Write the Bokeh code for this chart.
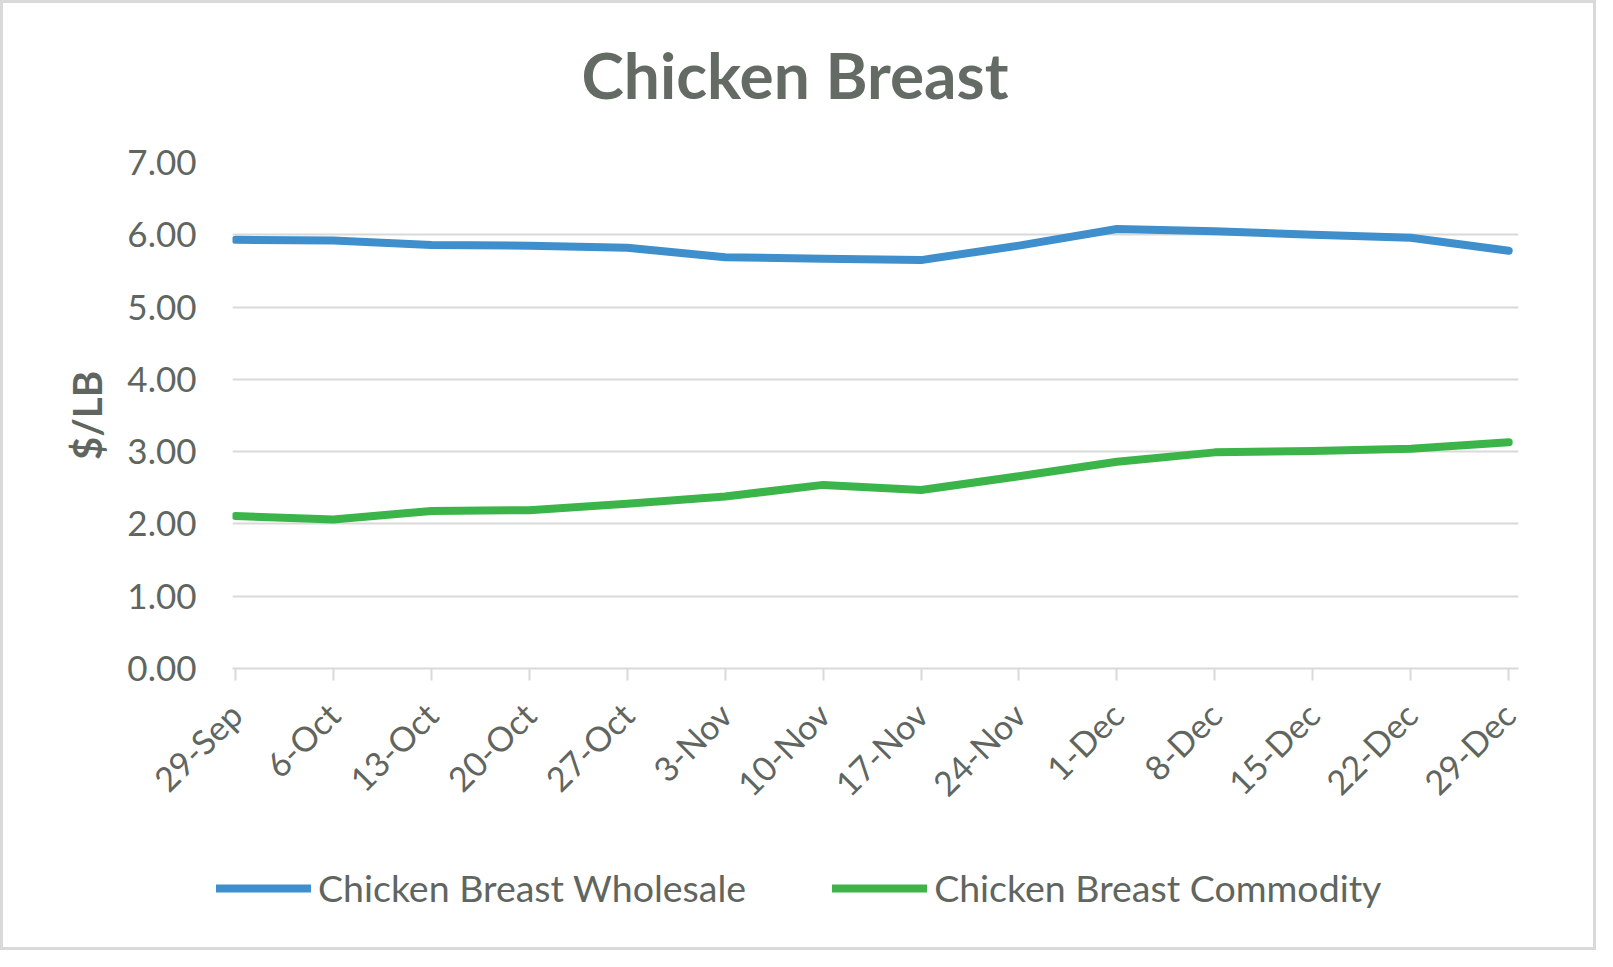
import math
from bokeh.plotting import figure
from bokeh.layouts import column
from bokeh.models import (Range1d, FixedTicker, NumeralTickFormatter, Legend, LegendItem, Label)
from bokeh.embed import file_html
from bokeh.resources import INLINE

# ---- data ----
weeks = ["29-Sep", "6-Oct", "13-Oct", "20-Oct", "27-Oct", "3-Nov", "10-Nov",
         "17-Nov", "24-Nov", "1-Dec", "8-Dec", "15-Dec", "22-Dec", "29-Dec"]
wholesale = [5.93, 5.92, 5.86, 5.85, 5.82, 5.69, 5.67, 5.65, 5.85, 6.08, 6.05, 6.00, 5.96, 5.78]
commodity = [2.11, 2.06, 2.18, 2.19, 2.28, 2.38, 2.54, 2.47, 2.66, 2.86, 2.99, 3.01, 3.04, 3.13]
series_names = ["Chicken Breast Wholesale", "Chicken Breast Commodity"]
title_text = "Chicken Breast"
y_title = "$/LB"
y_ticks = [0, 1, 2, 3, 4, 5, 6, 7]

# ---- style ----
FONT = "Lato"
TXT = "#60665f"
GRID = "#d9d9d9"
BLUE = "#3e8fcb"
GREEN = "#3bb54a"
LW = 8

W = 1590
HT, HM, HL = 120, 730, 94          # title strip, main chart, legend strip
FL, FR = 229, 1515                  # frame left/right
FT, FB = 159 - HT, 665 - HT         # frame top/bottom inside the main figure
X0, X1 = -0.03, 13.1
Y0, Y1 = 0, 7

def strip(height):
    f = figure(width=W, height=height, x_range=Range1d(0, W), y_range=Range1d(0, height),
               x_axis_type=None, y_axis_type=None, output_backend="svg",
               toolbar_location=None, min_border=0, frame_align=False)
    f.outline_line_color = None
    f.background_fill_color = "white"
    f.border_fill_color = "white"
    return f

# ---- title strip ----
pt = strip(HT)
pt.add_layout(Label(x=791.5, y=HT - 71, text=title_text, text_align="center",
                    text_baseline="alphabetic", text_font=FONT, text_font_size="64px",
                    text_font_style="bold", text_color="#646a64"))

# ---- main chart ----
p = figure(width=W, height=HM, x_range=Range1d(X0, X1), y_range=Range1d(Y0, Y1),
           output_backend="svg", toolbar_location=None, frame_align=False,
           min_border_left=FL, min_border_right=W - FR,
           min_border_top=FT, min_border_bottom=HM - FB)
p.outline_line_color = None
p.background_fill_color = "white"
p.border_fill_color = "white"

xs = list(range(len(weeks)))
p.line(xs, wholesale, line_color=BLUE, line_width=LW, line_cap="round", line_join="round")
p.line(xs, commodity, line_color=GREEN, line_width=LW, line_cap="round", line_join="round")

xa = p.xaxis[0]
xa.ticker = FixedTicker(ticks=xs)
xa.major_label_overrides = {i: w for i, w in enumerate(weeks)}
xa.major_label_orientation = math.pi / 4
xa.axis_line_color = GRID
xa.axis_line_width = 2
xa.major_tick_line_color = GRID
xa.major_tick_line_width = 2
xa.major_tick_out = 12
xa.major_tick_in = 0
xa.minor_tick_line_color = None
xa.major_label_text_font = FONT
xa.major_label_text_font_size = "34px"
xa.major_label_text_color = TXT
xa.major_label_standoff = 28

ya = p.yaxis[0]
ya.ticker = FixedTicker(ticks=y_ticks)
ya.formatter = NumeralTickFormatter(format="0.00")
ya.axis_line_color = None
ya.major_tick_line_color = None
ya.minor_tick_line_color = None
ya.major_tick_out = 0
ya.major_tick_in = 0
ya.major_label_standoff = 36
ya.major_label_text_font = FONT
ya.major_label_text_font_size = "35px"
ya.major_label_text_color = TXT
ya.axis_label = y_title
ya.axis_label_text_font = FONT
ya.axis_label_text_font_size = "40px"
ya.axis_label_text_font_style = "bold"
ya.axis_label_text_color = TXT
ya.axis_label_standoff = 13

p.xgrid.grid_line_color = None
p.ygrid.grid_line_color = GRID
p.ygrid.grid_line_width = 2

# ---- legend strip ----
pl = strip(HL)
nan = float("nan")
k1 = pl.line([nan, nan], [nan, nan], line_color=BLUE, line_width=LW, line_cap="round")
k2 = pl.line([nan, nan], [nan, nan], line_color=GREEN, line_width=LW, line_cap="round")
legend = Legend(items=[LegendItem(label=series_names[0], renderers=[k1]),
                       LegendItem(label=series_names[1], renderers=[k2])],
                location=(213, 37), orientation="horizontal",
                glyph_width=95, glyph_height=40, label_height=40,
                label_standoff=7, spacing=86, padding=0, margin=0,
                border_line_color=None, background_fill_alpha=0,
                label_text_font=FONT, label_text_font_size="37.5px", label_text_color=TXT)
pl.add_layout(legend)

layout = column(pt, p, pl, spacing=0, styles={"border": "3px solid #d9d9d9"})

open("out.html", "w").write(file_html(layout, INLINE))
